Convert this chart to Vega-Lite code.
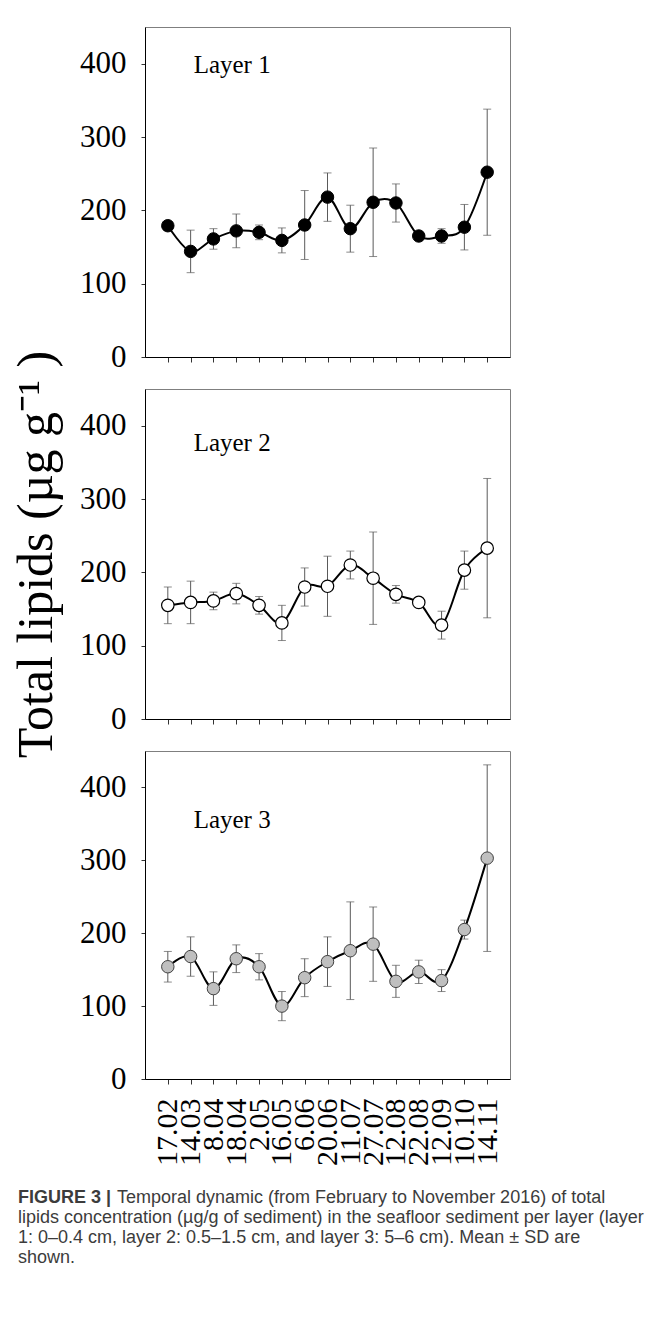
{
  "$schema": "https://vega.github.io/schema/vega-lite/v6.json",
  "padding": {"left": 11, "top": 26, "right": 5, "bottom": 5},
  "background": "white",
  "config": {
    "view": {"stroke": "#7f7f7f", "strokeWidth": 1},
    "axis": {"labelFont": "Liberation Serif", "labelColor": "black", "domainColor": "black", "domainWidth": 1, "tickColor": "#333333", "grid": false, "titleFont": "Liberation Serif", "titleColor": "black", "titleFontWeight": "normal"},
    "axisY": {"labelFontSize": 31, "tickSize": 4, "labelPadding": 15},
    "axisX": {"labelAngle": -90, "labelFontSize": 30, "tickSize": 5, "labelPadding": 14}
  },
  "datasets": {
    "lipids": [
      {"layer": 1, "i": 1, "date": "17.02", "mean": 179, "sd": 4},
      {"layer": 1, "i": 2, "date": "14.03", "mean": 144, "sd": 29},
      {"layer": 1, "i": 3, "date": "8.04", "mean": 161, "sd": 14},
      {"layer": 1, "i": 4, "date": "18.04", "mean": 172, "sd": 23},
      {"layer": 1, "i": 5, "date": "2.05", "mean": 170, "sd": 10},
      {"layer": 1, "i": 6, "date": "16.05", "mean": 159, "sd": 17},
      {"layer": 1, "i": 7, "date": "6.06", "mean": 180, "sd": 47},
      {"layer": 1, "i": 8, "date": "20.06", "mean": 218, "sd": 33},
      {"layer": 1, "i": 9, "date": "11.07", "mean": 175, "sd": 32},
      {"layer": 1, "i": 10, "date": "27.07", "mean": 211, "sd": 74},
      {"layer": 1, "i": 11, "date": "12.08", "mean": 210, "sd": 26},
      {"layer": 1, "i": 12, "date": "22.08", "mean": 165, "sd": 4},
      {"layer": 1, "i": 13, "date": "12.09", "mean": 165, "sd": 10},
      {"layer": 1, "i": 14, "date": "10.10", "mean": 177, "sd": 31},
      {"layer": 1, "i": 15, "date": "14.11", "mean": 252, "sd": 86},
      {"layer": 2, "i": 1, "date": "17.02", "mean": 155, "sd": 25},
      {"layer": 2, "i": 2, "date": "14.03", "mean": 159, "sd": 29},
      {"layer": 2, "i": 3, "date": "8.04", "mean": 161, "sd": 12},
      {"layer": 2, "i": 4, "date": "18.04", "mean": 171, "sd": 14},
      {"layer": 2, "i": 5, "date": "2.05", "mean": 155, "sd": 12},
      {"layer": 2, "i": 6, "date": "16.05", "mean": 131, "sd": 24},
      {"layer": 2, "i": 7, "date": "6.06", "mean": 180, "sd": 26},
      {"layer": 2, "i": 8, "date": "20.06", "mean": 181, "sd": 41},
      {"layer": 2, "i": 9, "date": "11.07", "mean": 210, "sd": 19},
      {"layer": 2, "i": 10, "date": "27.07", "mean": 192, "sd": 63},
      {"layer": 2, "i": 11, "date": "12.08", "mean": 170, "sd": 12},
      {"layer": 2, "i": 12, "date": "22.08", "mean": 159, "sd": 3},
      {"layer": 2, "i": 13, "date": "12.09", "mean": 128, "sd": 19},
      {"layer": 2, "i": 14, "date": "10.10", "mean": 203, "sd": 26},
      {"layer": 2, "i": 15, "date": "14.11", "mean": 233, "sd": 95},
      {"layer": 3, "i": 1, "date": "17.02", "mean": 154, "sd": 21},
      {"layer": 3, "i": 2, "date": "14.03", "mean": 168, "sd": 27},
      {"layer": 3, "i": 3, "date": "8.04", "mean": 124, "sd": 23},
      {"layer": 3, "i": 4, "date": "18.04", "mean": 165, "sd": 19},
      {"layer": 3, "i": 5, "date": "2.05", "mean": 154, "sd": 18},
      {"layer": 3, "i": 6, "date": "16.05", "mean": 100, "sd": 20},
      {"layer": 3, "i": 7, "date": "6.06", "mean": 139, "sd": 26},
      {"layer": 3, "i": 8, "date": "20.06", "mean": 161, "sd": 34},
      {"layer": 3, "i": 9, "date": "11.07", "mean": 176, "sd": 67},
      {"layer": 3, "i": 10, "date": "27.07", "mean": 185, "sd": 51},
      {"layer": 3, "i": 11, "date": "12.08", "mean": 134, "sd": 22},
      {"layer": 3, "i": 12, "date": "22.08", "mean": 147, "sd": 16},
      {"layer": 3, "i": 13, "date": "12.09", "mean": 135, "sd": 15},
      {"layer": 3, "i": 14, "date": "10.10", "mean": 205, "sd": 13},
      {"layer": 3, "i": 15, "date": "14.11", "mean": 303, "sd": 128}
    ],
    "caption": [
      {"line": 1, "lead": "FIGURE 3 |", "text": "Temporal dynamic (from February to November 2016) of total"},
      {"line": 2, "text": "lipids concentration (µg/g of sediment) in the seafloor sediment per layer (layer"},
      {"line": 3, "text": "1: 0–0.4 cm, layer 2: 0.5–1.5 cm, and layer 3: 5–6 cm). Mean ± SD are"},
      {"line": 4, "text": "shown."}
    ]
  },
  "spacing": 22,
  "vconcat": [
    {
      "spacing": 32,
      "bounds": "flush",
      "vconcat": [
        {
          "width": 365, "height": 330,
          "data": {"name": "lipids"},
          "transform": [{"filter": "datum.layer == 1"}],
          "encoding": {
            "x": {"field": "date", "type": "ordinal", "sort": ["17.02","14.03","8.04","18.04","2.05","16.05","6.06","20.06","11.07","27.07","12.08","22.08","12.09","10.10","14.11"], "scale": {"type": "point", "padding": 1}, "axis": {"labels": false, "title": null}},
            "y": {"field": "mean", "type": "quantitative", "scale": {"domain": [0, 450], "nice": false}, "title": null, "axis": {"values": [0, 100, 200, 300, 400]}}
          },
          "layer": [
            {"mark": {"type": "errorbar", "color": "#5a5a5a", "thickness": 1, "ticks": {"size": 8, "thickness": 1, "color": "#5a5a5a"}}, "encoding": {"yError": {"field": "sd"}}},
            {"mark": {"type": "line", "interpolate": "cardinal", "color": "black", "strokeWidth": 2}, "encoding": {"order": {"field": "i"}}},
            {"mark": {"type": "point", "shape": "circle", "filled": true, "size": 155, "fill": "black", "stroke": "black", "strokeWidth": 1, "opacity": 1}},
            {"transform": [{"filter": "datum.i == 1"}], "mark": {"type": "text", "text": "Layer 1", "align": "left", "baseline": "middle", "font": "Liberation Serif", "fontWeight": "normal", "fontSize": 25, "dx": 3, "color": "black"}, "encoding": {"x": {"datum": "14.03"}, "y": {"datum": 398}}}
          ]
        },
        {
          "width": 365, "height": 330,
          "data": {"name": "lipids"},
          "transform": [{"filter": "datum.layer == 2"}],
          "encoding": {
            "x": {"field": "date", "type": "ordinal", "sort": ["17.02","14.03","8.04","18.04","2.05","16.05","6.06","20.06","11.07","27.07","12.08","22.08","12.09","10.10","14.11"], "scale": {"type": "point", "padding": 1}, "axis": {"labels": false, "title": null}},
            "y": {"field": "mean", "type": "quantitative", "scale": {"domain": [0, 450], "nice": false}, "title": "Total lipids (µg g⁻¹ )", "axis": {"values": [0, 100, 200, 300, 400], "titleFontSize": 50, "titlePadding": 18}}
          },
          "layer": [
            {"mark": {"type": "errorbar", "color": "#5a5a5a", "thickness": 1, "ticks": {"size": 8, "thickness": 1, "color": "#5a5a5a"}}, "encoding": {"yError": {"field": "sd"}}},
            {"mark": {"type": "line", "interpolate": "cardinal", "color": "black", "strokeWidth": 2}, "encoding": {"order": {"field": "i"}}},
            {"mark": {"type": "point", "shape": "circle", "filled": true, "size": 155, "fill": "white", "stroke": "black", "strokeWidth": 1.2, "opacity": 1}},
            {"transform": [{"filter": "datum.i == 1"}], "mark": {"type": "text", "text": "Layer 2", "align": "left", "baseline": "middle", "font": "Liberation Serif", "fontWeight": "normal", "fontSize": 25, "dx": 3, "color": "black"}, "encoding": {"x": {"datum": "14.03"}, "y": {"datum": 377}}}
          ]
        },
        {
          "width": 365, "height": 328,
          "data": {"name": "lipids"},
          "transform": [{"filter": "datum.layer == 3"}],
          "encoding": {
            "x": {"field": "date", "type": "ordinal", "sort": ["17.02","14.03","8.04","18.04","2.05","16.05","6.06","20.06","11.07","27.07","12.08","22.08","12.09","10.10","14.11"], "scale": {"type": "point", "padding": 1}, "axis": {"title": null}},
            "y": {"field": "mean", "type": "quantitative", "scale": {"domain": [0, 450], "nice": false}, "title": null, "axis": {"values": [0, 100, 200, 300, 400]}}
          },
          "layer": [
            {"mark": {"type": "errorbar", "color": "#5a5a5a", "thickness": 1, "ticks": {"size": 8, "thickness": 1, "color": "#5a5a5a"}}, "encoding": {"yError": {"field": "sd"}}},
            {"mark": {"type": "line", "interpolate": "cardinal", "color": "black", "strokeWidth": 2}, "encoding": {"order": {"field": "i"}}},
            {"mark": {"type": "point", "shape": "circle", "filled": true, "size": 155, "fill": "#bfbfbf", "stroke": "#404040", "strokeWidth": 1, "opacity": 1}},
            {"transform": [{"filter": "datum.i == 1"}], "mark": {"type": "text", "text": "Layer 3", "align": "left", "baseline": "middle", "font": "Liberation Serif", "fontWeight": "normal", "fontSize": 25, "dx": 3, "color": "black"}, "encoding": {"x": {"datum": "14.03"}, "y": {"datum": 356}}}
          ]
        }
      ]
    },
    {
      "width": 365, "height": 80,
      "view": {"stroke": null},
      "data": {"name": "caption"},
      "encoding": {
        "x": {"datum": 0, "type": "quantitative", "scale": {"domain": [0, 1]}, "axis": null},
        "y": {"field": "line", "type": "ordinal", "scale": {"padding": 0.5}, "axis": null}
      },
      "layer": [
        {"transform": [{"filter": "datum.line == 1"}], "mark": {"type": "text", "align": "left", "baseline": "middle", "font": "Liberation Sans", "fontSize": 18, "color": "#3c3c3c", "dx": -28}, "encoding": {"text": {"field": "text"}}},
        {"transform": [{"filter": "datum.line != 1"}], "mark": {"type": "text", "align": "left", "baseline": "middle", "font": "Liberation Sans", "fontSize": 18, "color": "#3c3c3c", "dx": -127}, "encoding": {"text": {"field": "text"}}},
        {"transform": [{"filter": "datum.line == 1"}], "mark": {"type": "text", "align": "left", "baseline": "middle", "font": "Liberation Sans", "fontSize": 18, "fontWeight": "bold", "color": "#3c3c3c", "dx": -127}, "encoding": {"text": {"field": "lead"}}}
      ]
    }
  ]
}
